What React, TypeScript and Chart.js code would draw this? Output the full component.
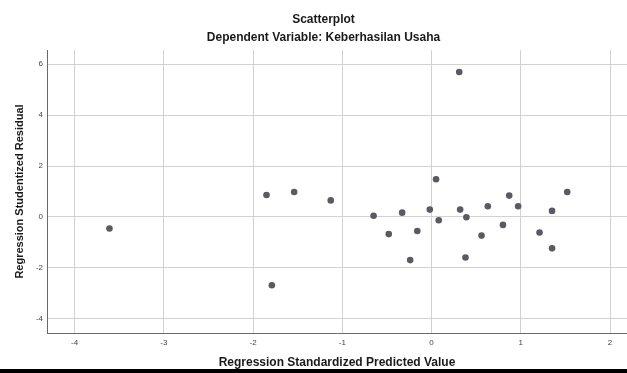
import React, { useEffect, useRef } from "react";
import { Chart, registerables } from "chart.js";

Chart.register(...registerables);

const chartTitle = "Scatterplot";
const chartSubtitle = "Dependent Variable: Keberhasilan Usaha";
const xTitle = "Regression Standardized Predicted Value";
const yTitle = "Regression Studentized Residual";

const xTicks = [-4, -3, -2, -1, 0, 1, 2];
const yTicks = [-4, -2, 0, 2, 4, 6];

const predicted = [
  -3.61, -1.85, -1.79, -1.54, -1.13, -0.65, -0.48, -0.33, -0.16, -0.24, -0.02,
  0.05, 0.08, 0.31, 0.32, 0.39, 0.38, 0.56, 0.63, 0.8, 0.87, 0.97, 1.21, 1.35,
  1.35, 1.52,
];
const residual = [
  -0.45, 0.86, -2.68, 0.98, 0.65, 0.05, -0.67, 0.17, -0.55, -1.69, 0.29, 1.48,
  -0.13, 5.69, 0.29, -0.01, -1.59, -0.73, 0.42, -0.31, 0.84, 0.42, -0.61, 0.24,
  -1.23, 0.98,
];

const FONT = '"Liberation Sans", Arial, sans-serif';

const titlePlugin = {
  id: "spssTitles",
  afterDraw(chart: any) {
    const ctx = chart.ctx;
    ctx.save();
    ctx.fillStyle = "#1a1a1a";
    ctx.font = `bold 12px ${FONT}`;
    ctx.textAlign = "center";
    ctx.textBaseline = "middle";
    const cx = chart.width / 2 + 10;
    ctx.fillText(chartTitle, cx, 20);
    ctx.fillText(chartSubtitle, cx, 38);
    ctx.restore();
  },
};

export default function App() {
  const ref = useRef<HTMLCanvasElement>(null);

  useEffect(() => {
    document.body.style.margin = "0";
    document.body.style.background = "#ffffff";
    const points = predicted.map((x, i) => ({ x, y: residual[i] }));
    const chart = new Chart(ref.current!, {
      type: "scatter",
      data: {
        datasets: [
          {
            data: points,
            backgroundColor: "#5a5a62",
            borderWidth: 0,
            pointRadius: 3.3,
          },
        ],
      },
      options: {
        responsive: false,
        animation: false,
        layout: {
          autoPadding: false,
          padding: { top: 50, left: 0, right: 0, bottom: 0 },
        },
        plugins: {
          legend: { display: false },
          tooltip: { enabled: false },
          title: { display: false },
        },
        scales: {
          x: {
            type: "linear",
            min: -4.31,
            max: 2.19,
            afterBuildTicks: (s: any) => {
              s.ticks = xTicks.map((v) => ({ value: v }));
            },
            afterFit: (s: any) => {
              s.height = 36;
            },
            ticks: {
              font: { family: FONT, size: 8 },
              color: "#444",
              padding: 5,
              maxRotation: 0,
              autoSkip: false,
            },
            grid: { color: "#d2d2d2", drawTicks: false, lineWidth: 1 },
            border: { color: "#6a6a6a", width: 1 },
            title: {
              display: true,
              text: xTitle,
              font: { family: FONT, size: 12, weight: "bold", lineHeight: 1 },
              color: "#1a1a1a",
              padding: { top: 0, bottom: 0 },
            },
          },
          y: {
            type: "linear",
            min: -4.55,
            max: 6.55,
            afterBuildTicks: (s: any) => {
              s.ticks = yTicks.map((v) => ({ value: v }));
            },
            afterFit: (s: any) => {
              s.width = 47;
            },
            ticks: {
              font: { family: FONT, size: 8 },
              color: "#444",
              padding: 4,
              autoSkip: false,
            },
            grid: { color: "#d2d2d2", drawTicks: false, lineWidth: 1 },
            border: { color: "#6a6a6a", width: 1 },
            title: {
              display: true,
              text: yTitle,
              font: { family: FONT, size: 11, weight: "bold", lineHeight: 1 },
              color: "#1a1a1a",
              padding: { top: 14, bottom: 0 },
            },
          },
        },
      },
      plugins: [titlePlugin],
    });
    return () => chart.destroy();
  }, []);

  return (
    <div style={{ width: 627, height: 373, background: "#fff" }}>
      <canvas ref={ref} width={627} height={369} style={{ display: "block" }} />
      <div style={{ width: 627, height: 4, background: "#000" }} />
    </div>
  );
}
